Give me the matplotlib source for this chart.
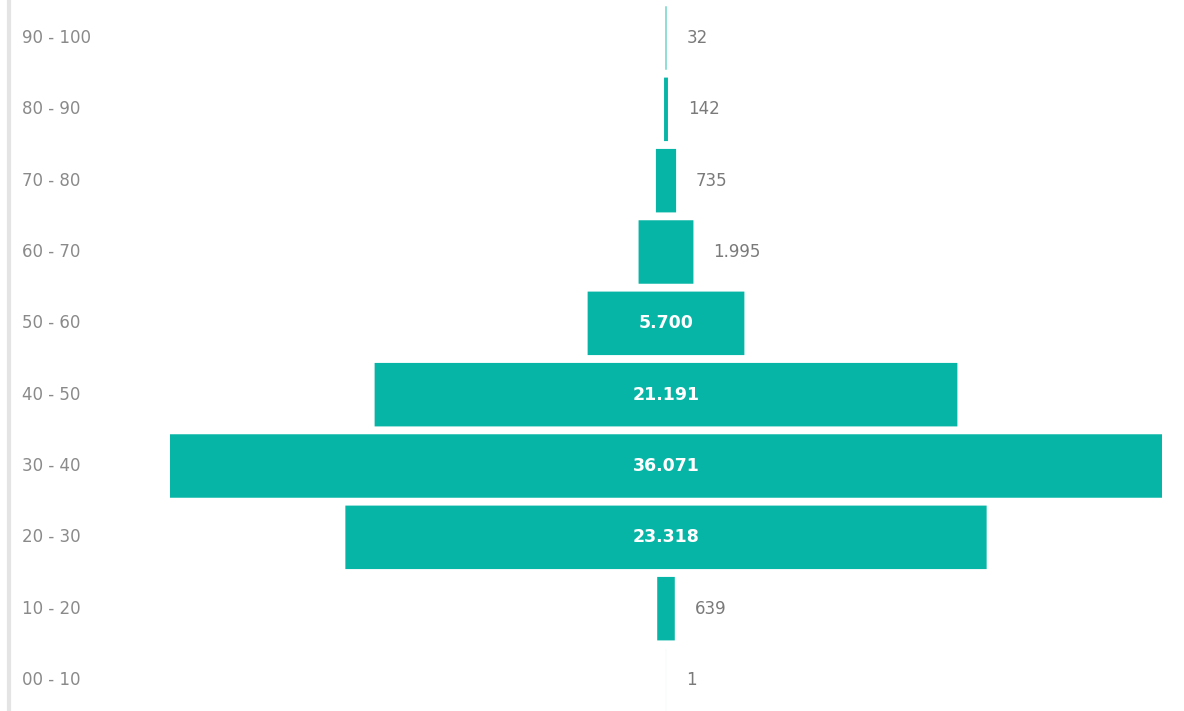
import matplotlib.pyplot as plt
import matplotlib.transforms as mtransforms

# Age groups (bottom to top) and counts
age_groups = ["00 - 10", "10 - 20", "20 - 30", "30 - 40", "40 - 50",
              "50 - 60", "60 - 70", "70 - 80", "80 - 90", "90 - 100"]
counts = [1, 639, 23318, 36071, 21191, 5700, 1995, 735, 142, 32]
count_labels = ["1", "639", "23.318", "36.071", "21.191",
                "5.700", "1.995", "735", "142", "32"]

bar_color = "#07b5a6"
text_grey = "#8a8a8a"

fig = plt.figure(figsize=(11.84, 7.11), dpi=100)
ax = fig.add_axes([0, 0, 1, 1])

# centered bars (funnel style)
lefts = [-c / 2 for c in counts]
ax.barh(range(len(counts)), counts, left=lefts, height=0.89,
        color=bar_color, edgecolor="none", snap=False)

# scale: widest bar spans ~992 px, centre at ~666 px
px_per_unit = 992 / max(counts)
ax.set_xlim(-666 / px_per_unit, (1184 - 666) / px_per_unit)
pitch = 71.33
ax.set_ylim(-(711 - 680) / pitch, 9 + 38 / pitch)
ax.axis("off")

# category labels on the left
trans = mtransforms.blended_transform_factory(fig.transFigure, ax.transData)
for i, lab in enumerate(age_groups):
    ax.text(22 / 1184, i, lab, transform=trans, ha="left", va="center",
            fontsize=12, color=text_grey, family="DejaVu Sans")

# value labels: inside for big bars, outside for small ones
offset = 20 / px_per_unit
for i, (c, lab) in enumerate(zip(counts, count_labels)):
    if c > 5000:
        ax.text(0, i, lab, ha="center", va="center", fontsize=12.5,
                color="white", fontweight="bold")
    else:
        ax.text(c / 2 + offset, i, lab, ha="left", va="center",
                fontsize=12, color="#7a7a7a")

# light border line on the left edge
fig.add_artist(plt.Line2D([9 / 1184, 9 / 1184], [0, 1], transform=fig.transFigure,
                          color="#e4e4e4", linewidth=3))

fig.savefig("out.png", dpi=100, facecolor="white")
